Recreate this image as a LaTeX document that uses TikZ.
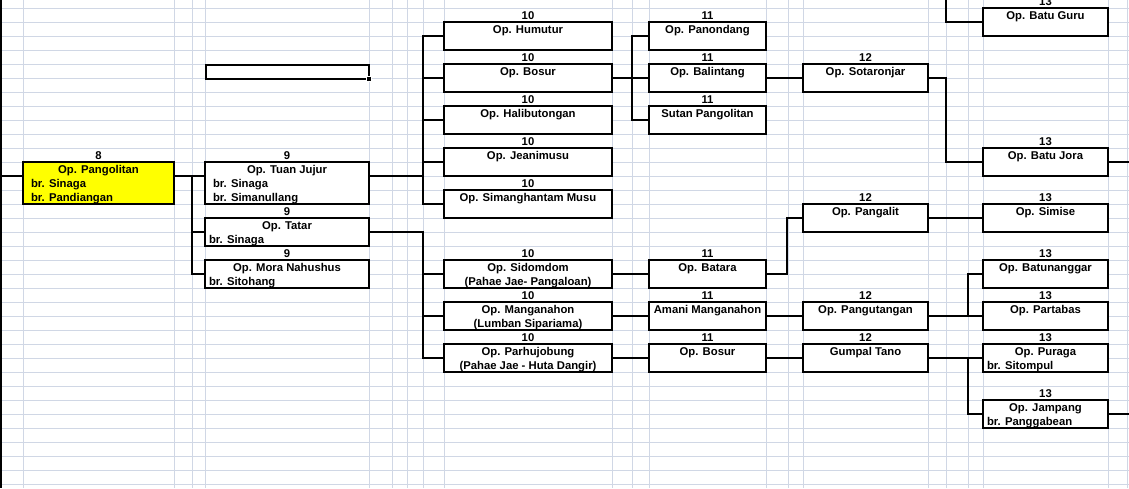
\documentclass[tikz,border=0pt]{standalone}
\usepackage{fontspec}
\setmainfont{Liberation Sans}
\definecolor{gridc}{HTML}{D0D7E5}
\definecolor{hilite}{HTML}{FFFF00}
\begin{document}
\begin{tikzpicture}[x=1pt,y=-1pt,
  box/.style={draw=black,line width=2pt,fill=white,inner sep=0pt,outer sep=0pt,anchor=north west,minimum height=28pt},
  tallbox/.style={minimum height=42pt},
  wA/.style={minimum width=151pt},
  wB/.style={minimum width=164pt},
  wC/.style={minimum width=168pt},
  wD/.style={minimum width=117pt},
  wE/.style={minimum width=125pt},
  conn/.style={draw=black,line width=2pt,line cap=rect},
  gline/.style={draw=gridc,line width=1pt},
  txt/.style={inner sep=0pt,outer sep=0pt,font=\fontsize{11.3}{13}\selectfont\bfseries},
  ctr/.style={txt,anchor=base},
  lft/.style={txt,anchor=base west},
]
\useasboundingbox (0,0) rectangle (1129,488);
\clip (0,0) rectangle (1129,488);
\fill[white] (0,0) rectangle (1129,488);
% spreadsheet grid
\foreach \gx in {23,174,192,205,369,392,407,423,444,612,632,649,766,788,803,928,946,968,983,1108,1127}
  \draw[gline] (\gx,0) -- (\gx,488);
\foreach \k in {0,...,34}
  \draw[gline] (0,{8+14*\k}) -- (1129,{8+14*\k});
\fill[black] (0,0) rectangle (1.5,488);

% selected empty cell
\node[draw=black,line width=2pt,inner sep=0pt,anchor=north west,minimum width=163pt,minimum height=14pt] (sel) at (205.3,64.3) {};
\node[fill=black,draw=white,line width=0.8pt,minimum size=5pt,inner sep=0pt] (handle) at (368.5,78.5) {};

% ---------- boxes ----------
\node[box,wA,tallbox,fill=hilite] (pang) at (23,162) {};
\node[box,wB,tallbox] (tuan) at (205,162) {};
\node[box,wB] (tatar) at (205,218) {};
\node[box,wB] (mora) at (205,260) {};

\node[box,wC] (humutur) at (444,22) {};
\node[box,wC] (bosurA) at (444,64) {};
\node[box,wC] (halib) at (444,106) {};
\node[box,wC] (jeani) at (444,148) {};
\node[box,wC] (simang) at (444,190) {};
\node[box,wC] (sidom) at (444,260) {};
\node[box,wC] (mangan) at (444,302) {};
\node[box,wC] (parhu) at (444,344) {};

\node[box,wD] (panon) at (649,22) {};
\node[box,wD] (balin) at (649,64) {};
\node[box,wD] (sutan) at (649,106) {};
\node[box,wD] (batara) at (649,260) {};
\node[box,wD] (amani) at (649,302) {};
\node[box,wD] (bosurB) at (649,344) {};

\node[box,wE] (sotar) at (803,64) {};
\node[box,wE] (pangal) at (803,204) {};
\node[box,wE] (pangut) at (803,302) {};
\node[box,wE] (gumpal) at (803,344) {};

\node[box,wE] (batuguru) at (983,8) {};
\node[box,wE] (batujora) at (983,148) {};
\node[box,wE] (simise) at (983,204) {};
\node[box,wE] (batun) at (983,260) {};
\node[box,wE] (partab) at (983,302) {};
\node[box,wE] (puraga) at (983,344) {};
\node[box,wE] (jampang) at (983,400) {};

% ---------- texts ----------
% column 8
\node[ctr] (n8) at (98.5,159) {8};
\node[ctr] (tpang) at (98.5,173) {Op. Pangolitan};
\node[lft] (tpang2) at (31,187) {br. Sinaga};
\node[lft] (tpang3) at (31,201) {br. Pandiangan};
% column 9
\node[ctr] (n9a) at (287,159) {9};
\node[ctr] (ttuan) at (287,173) {Op. Tuan Jujur};
\node[lft] (ttuan2) at (213,187) {br. Sinaga};
\node[lft] (ttuan3) at (213,201) {br. Simanullang};
\node[ctr] (n9b) at (287,215) {9};
\node[ctr] (ttatar) at (287,229) {Op. Tatar};
\node[lft] (ttatar2) at (209,243) {br. Sinaga};
\node[ctr] (n9c) at (287,257) {9};
\node[ctr] (tmora) at (287,271) {Op. Mora Nahushus};
\node[lft] (tmora2) at (209,285) {br. Sitohang};
% column 10
\node[ctr] (n10a) at (528,19) {10};
\node[ctr] (thum) at (528,33) {Op. Humutur};
\node[ctr] (n10b) at (528,61) {10};
\node[ctr] (tbosA) at (528,75) {Op. Bosur};
\node[ctr] (n10c) at (528,103) {10};
\node[ctr] (thal) at (528,117) {Op. Halibutongan};
\node[ctr] (n10d) at (528,145) {10};
\node[ctr] (tjea) at (528,159) {Op. Jeanimusu};
\node[ctr] (n10e) at (528,187) {10};
\node[ctr] (tsim) at (528,201) {Op. Simanghantam Musu};
\node[ctr] (n10f) at (528,257) {10};
\node[ctr] (tsid) at (528,271) {Op. Sidomdom};
\node[ctr] (tsid2) at (528,285) {(Pahae Jae- Pangaloan)};
\node[ctr] (n10g) at (528,299) {10};
\node[ctr] (tman) at (528,313) {Op. Manganahon};
\node[ctr] (tman2) at (528,327) {(Lumban Sipariama)};
\node[ctr] (n10h) at (528,341) {10};
\node[ctr] (tpar) at (528,355) {Op. Parhujobung};
\node[ctr] (tpar2) at (528,369) {(Pahae Jae - Huta Dangir)};
% column 11
\node[ctr] (n11a) at (707.5,19) {11};
\node[ctr] (tpan) at (707.5,33) {Op. Panondang};
\node[ctr] (n11b) at (707.5,61) {11};
\node[ctr] (tbal) at (707.5,75) {Op. Balintang};
\node[ctr] (n11c) at (707.5,103) {11};
\node[ctr] (tsut) at (707.5,117) {Sutan Pangolitan};
\node[ctr] (n11d) at (707.5,257) {11};
\node[ctr] (tbat) at (707.5,271) {Op. Batara};
\node[ctr] (n11e) at (707.5,299) {11};
\node[ctr] (tama) at (707.5,313) {Amani Manganahon};
\node[ctr] (n11f) at (707.5,341) {11};
\node[ctr] (tbosB) at (707.5,355) {Op. Bosur};
% column 12
\node[ctr] (n12a) at (865.5,61) {12};
\node[ctr] (tsot) at (865.5,75) {Op. Sotaronjar};
\node[ctr] (n12b) at (865.5,201) {12};
\node[ctr] (tpgl) at (865.5,215) {Op. Pangalit};
\node[ctr] (n12c) at (865.5,299) {12};
\node[ctr] (tpgt) at (865.5,313) {Op. Pangutangan};
\node[ctr] (n12d) at (865.5,341) {12};
\node[ctr] (tgum) at (865.5,355) {Gumpal Tano};
% column 13
\node[ctr] (n13a) at (1045.5,5) {13};
\node[ctr] (tbg) at (1045.5,19) {Op. Batu Guru};
\node[ctr] (n13b) at (1045.5,145) {13};
\node[ctr] (tbj) at (1045.5,159) {Op. Batu Jora};
\node[ctr] (n13c) at (1045.5,201) {13};
\node[ctr] (tsms) at (1045.5,215) {Op. Simise};
\node[ctr] (n13d) at (1045.5,257) {13};
\node[ctr] (tbtn) at (1045.5,271) {Op. Batunanggar};
\node[ctr] (n13e) at (1045.5,299) {13};
\node[ctr] (tptb) at (1045.5,313) {Op. Partabas};
\node[ctr] (n13f) at (1045.5,341) {13};
\node[ctr] (tpur) at (1045.5,355) {Op. Puraga};
\node[lft] (tpur2) at (987,369) {br. Sitompul};
\node[ctr] (n13g) at (1045.5,397) {13};
\node[ctr] (tjam) at (1045.5,411) {Op. Jampang};
\node[lft] (tjam2) at (987,425) {br. Panggabean};

% ---------- connectors ----------
\coordinate (in8) at (0,176);
\coordinate (b8) at (192,176);
\coordinate (b9a) at (423,176);
\coordinate (b9b) at (423,232);
\coordinate (b10) at (632,78);
\coordinate (b11) at (787,274);
\coordinate (b12a) at (946,78);
\coordinate (topin) at (946,-3);
\coordinate (b12b) at (968,316);
\coordinate (b12c) at (968,358);
\coordinate (out1) at (1132,162);
\coordinate (out2) at (1132,414);

\draw[conn] (in8) -- ([yshift=-14pt]pang.north west);
\draw[conn] ([yshift=-14pt]pang.north east) -- ([yshift=-14pt]tuan.north west);
\draw[conn] (b8) |- (tatar.west);
\draw[conn] (b8) |- (mora.west);

\draw[conn] ([yshift=-14pt]tuan.north east) -- (b9a);
\draw[conn] (b9a) |- (humutur.west);
\draw[conn] (b9a) |- (bosurA.west);
\draw[conn] (b9a) |- (halib.west);
\draw[conn] (b9a) |- (jeani.west);
\draw[conn] (b9a) |- (simang.west);

\draw[conn] (tatar.east) -- (b9b);
\draw[conn] (b9b) |- (sidom.west);
\draw[conn] (b9b) |- (mangan.west);
\draw[conn] (b9b) |- (parhu.west);

\draw[conn] (bosurA.east) -- (balin.west);
\draw[conn] (b10) |- (panon.west);
\draw[conn] (b10) |- (sutan.west);

\draw[conn] (balin.east) -- (sotar.west);
\draw[conn] (sotar.east) -- (b12a) |- (batujora.west);
\draw[conn] (topin) |- (batuguru.west);
\draw[conn] (batujora.east) -- (out1);

\draw[conn] (sidom.east) -- (batara.west);
\draw[conn] (batara.east) -- (b11) |- (pangal.west);
\draw[conn] (pangal.east) -- (simise.west);

\draw[conn] (mangan.east) -- (amani.west);
\draw[conn] (amani.east) -- (pangut.west);
\draw[conn] (pangut.east) -- (partab.west);
\draw[conn] (b12b) |- (batun.west);

\draw[conn] (parhu.east) -- (bosurB.west);
\draw[conn] (bosurB.east) -- (gumpal.west);
\draw[conn] (gumpal.east) -- (puraga.west);
\draw[conn] (b12c) |- (jampang.west);
\draw[conn] (jampang.east) -- (out2);
\end{tikzpicture}
\end{document}
